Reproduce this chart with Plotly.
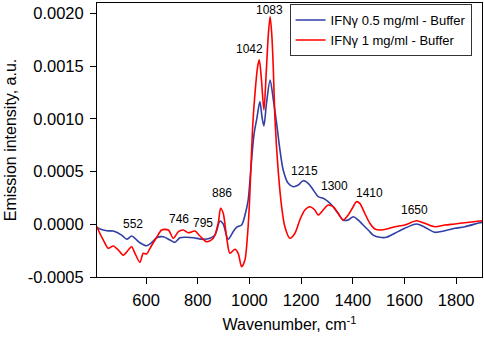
import plotly.graph_objects as go

# Wavenumber (cm-1) and emission intensity, IFNγ 0.5 mg/ml - Buffer
blue_x = [410, 415, 447.5, 473, 505.5, 525, 544, 557, 576, 602, 621.5, 641, 666.5, 692.5, 711.5,
          731, 757, 782.5, 821, 847, 866.5, 886, 898.5, 917.5, 937, 950, 969.5, 983, 995, 1002,
          1010, 1018, 1029, 1040.5, 1049, 1056, 1066, 1080, 1092.5, 1105, 1118, 1130.5, 1150,
          1169.5, 1189, 1208, 1227.5, 1247, 1266, 1285.5, 1304.5, 1324, 1343, 1362.5, 1382,
          1401.5, 1420.5, 1440, 1459.5, 1479, 1504.5, 1530.5, 1562.5, 1601, 1646.5, 1678.5,
          1717.5, 1756, 1795, 1833.5, 1891.5, 1900]
blue_y = [-0.000030, -0.000038, -0.000061, -0.000064, -0.000102, -0.000142, -0.000111, -0.000133,
          -0.000175, -0.000203, -0.000175, -0.000127, -0.000118, -0.000149, -0.000171, -0.000127,
          -0.000123, -0.000127, -0.000142, -0.000133, -0.000102, 0.000031, 0.000003, -0.000142,
          -0.000070, -0.000028, -0.000007, 0.000090, 0.000230, 0.000420, 0.000660, 0.000860,
          0.001010, 0.001164, 0.001010, 0.000934, 0.001150, 0.001370, 0.001180, 0.000960,
          0.000706, 0.000516, 0.000389, 0.000357, 0.000373, 0.000414, 0.000389, 0.000326,
          0.000262, 0.000247, 0.000215, 0.000167, 0.000104, 0.000041, 0.000041, 0.000072,
          0.000041, -0.000007, -0.000054, -0.000102, -0.000123, -0.000123, -0.000085, -0.000038,
          0.000003, -0.000028, -0.000076, -0.000061, -0.000038, -0.000023, 0.000015, 0.000018]

# IFNγ 1 mg/ml - Buffer
red_x = [410, 415, 434.5, 453.5, 473, 492.5, 511.5, 531, 544, 557, 576, 589, 602, 615, 641, 660.5,
         686, 705.5, 725, 744.5, 763, 789, 808.5, 834, 860, 879, 888.5, 898.5, 911.5, 924.5, 944,
         956.5, 969.5, 982.5, 991, 999, 1006, 1013, 1021, 1031, 1038, 1046.5, 1056, 1065.5, 1073,
         1080, 1086.5, 1092, 1099, 1111, 1124.5, 1137, 1156.5, 1176, 1195, 1214.5, 1234, 1253,
         1266, 1285.5, 1304.5, 1324, 1343, 1362.5, 1382, 1401.5, 1414, 1427, 1446.5, 1466,
         1485.5, 1511, 1530.5, 1562.5, 1601, 1646.5, 1678.5, 1717.5, 1756, 1795, 1833.5, 1891.5, 1900]
red_y = [-0.000020, -0.000054, -0.000149, -0.000228, -0.000206, -0.000244, -0.000292, -0.000244,
         -0.000213, -0.000275, -0.000361, -0.000275, -0.000282, -0.000228, -0.000123, -0.000054,
         -0.000054, -0.000133, -0.000070, -0.000054, -0.000080, -0.000064, -0.000111, -0.000165,
         -0.000133, 0.000010, 0.000152, 0.000104, -0.000118, -0.000275, -0.000237, -0.000275,
         -0.000403, -0.000339, -0.000150, 0.000150, 0.000560, 0.000950, 0.001228, 0.001484,
         0.001560, 0.001370, 0.001085, 0.001465, 0.001798, 0.001970, 0.001798, 0.001500,
         0.000990, 0.000516, 0.000167, -0.000023, -0.000133, -0.000085, 0.000041, 0.000136,
         0.000167, 0.000136, 0.000088, 0.000136, 0.000183, 0.000167, 0.000104, 0.000041,
         0.000088, 0.000167, 0.000215, 0.000199, 0.000104, 0.000010, -0.000045, -0.000054,
         -0.000045, -0.000023, -0.000007, 0.000034, 0.000010, -0.000023, -0.000007, 0.000003,
         0.000015, 0.000031, 0.000033]

series_names = ["IFNγ 0.5 mg/ml - Buffer", "IFNγ 1 mg/ml - Buffer"]

peak_labels = ["552", "746", "795", "886", "1042", "1083", "1215", "1300", "1410", "1650"]
peak_label_x = [548, 727, 821, 892, 1002, 1079, 1214, 1330, 1463, 1640]
peak_label_y = [0.0000, 0.000047, 0.000015, 0.000294, 0.00166, 0.00203, 0.00051, 0.000364, 0.000294, 0.000136]

y_tick_vals = [-0.0005, 0.0, 0.0005, 0.0010, 0.0015, 0.0020]
y_tick_text = ["-0.0005", "0.0000", "0.0005", "0.0010", "0.0015", "0.0020"]
x_tick_vals = [600, 800, 1000, 1200, 1400, 1600, 1800]

FONT = "Arial, Liberation Sans, sans-serif"

fig = go.Figure()
fig.add_trace(go.Scatter(x=blue_x, y=blue_y, mode="lines", name=series_names[0],
                         line=dict(color="#2f3fa6", width=1.6, shape="spline", smoothing=0.8)))
fig.add_trace(go.Scatter(x=red_x, y=red_y, mode="lines", name=series_names[1],
                         line=dict(color="#ff0000", width=1.6, shape="spline", smoothing=0.8)))

for t, xv, yv in zip(peak_labels, peak_label_x, peak_label_y):
    fig.add_annotation(x=xv, y=yv, text=t, showarrow=False,
                       font=dict(family=FONT, size=12, color="black"))

fig.update_layout(
    width=484, height=341,
    margin=dict(l=97, r=2, t=3, b=64, autoexpand=False),
    paper_bgcolor="white", plot_bgcolor="white",
    font=dict(family=FONT, color="black"),
    showlegend=True,
    legend=dict(x=0.973, xanchor="right", y=0.996, yanchor="top",
                bgcolor="white", bordercolor="#333333", borderwidth=1,
                font=dict(family=FONT, size=13, color="black")),
    xaxis=dict(range=[410, 1900], tickvals=x_tick_vals, ticks="outside", ticklen=6,
               tickcolor="black", showline=True, linecolor="black", linewidth=1, mirror=True,
               showgrid=False, zeroline=False, tickfont=dict(size=16.5), automargin=False,
               ticklabelstandoff=2,
               title=dict(text="Wavenumber, cm<sup>-1</sup>", font=dict(size=16), standoff=11)),
    yaxis=dict(range=[-0.0005, 0.0021], tickvals=y_tick_vals, ticktext=y_tick_text,
               ticks="outside", ticklen=6, tickcolor="black", showline=True, linecolor="black",
               linewidth=1, mirror=True, showgrid=False, zeroline=False, tickfont=dict(size=16.5),
               automargin=False, ticklabelstandoff=3,
               title=dict(text="Emission intensity, a.u.", font=dict(size=16), standoff=7)),
)

fig.write_html("out.html", config={"displayModeBar": False},
               post_script="document.body.style.margin='0px';")
